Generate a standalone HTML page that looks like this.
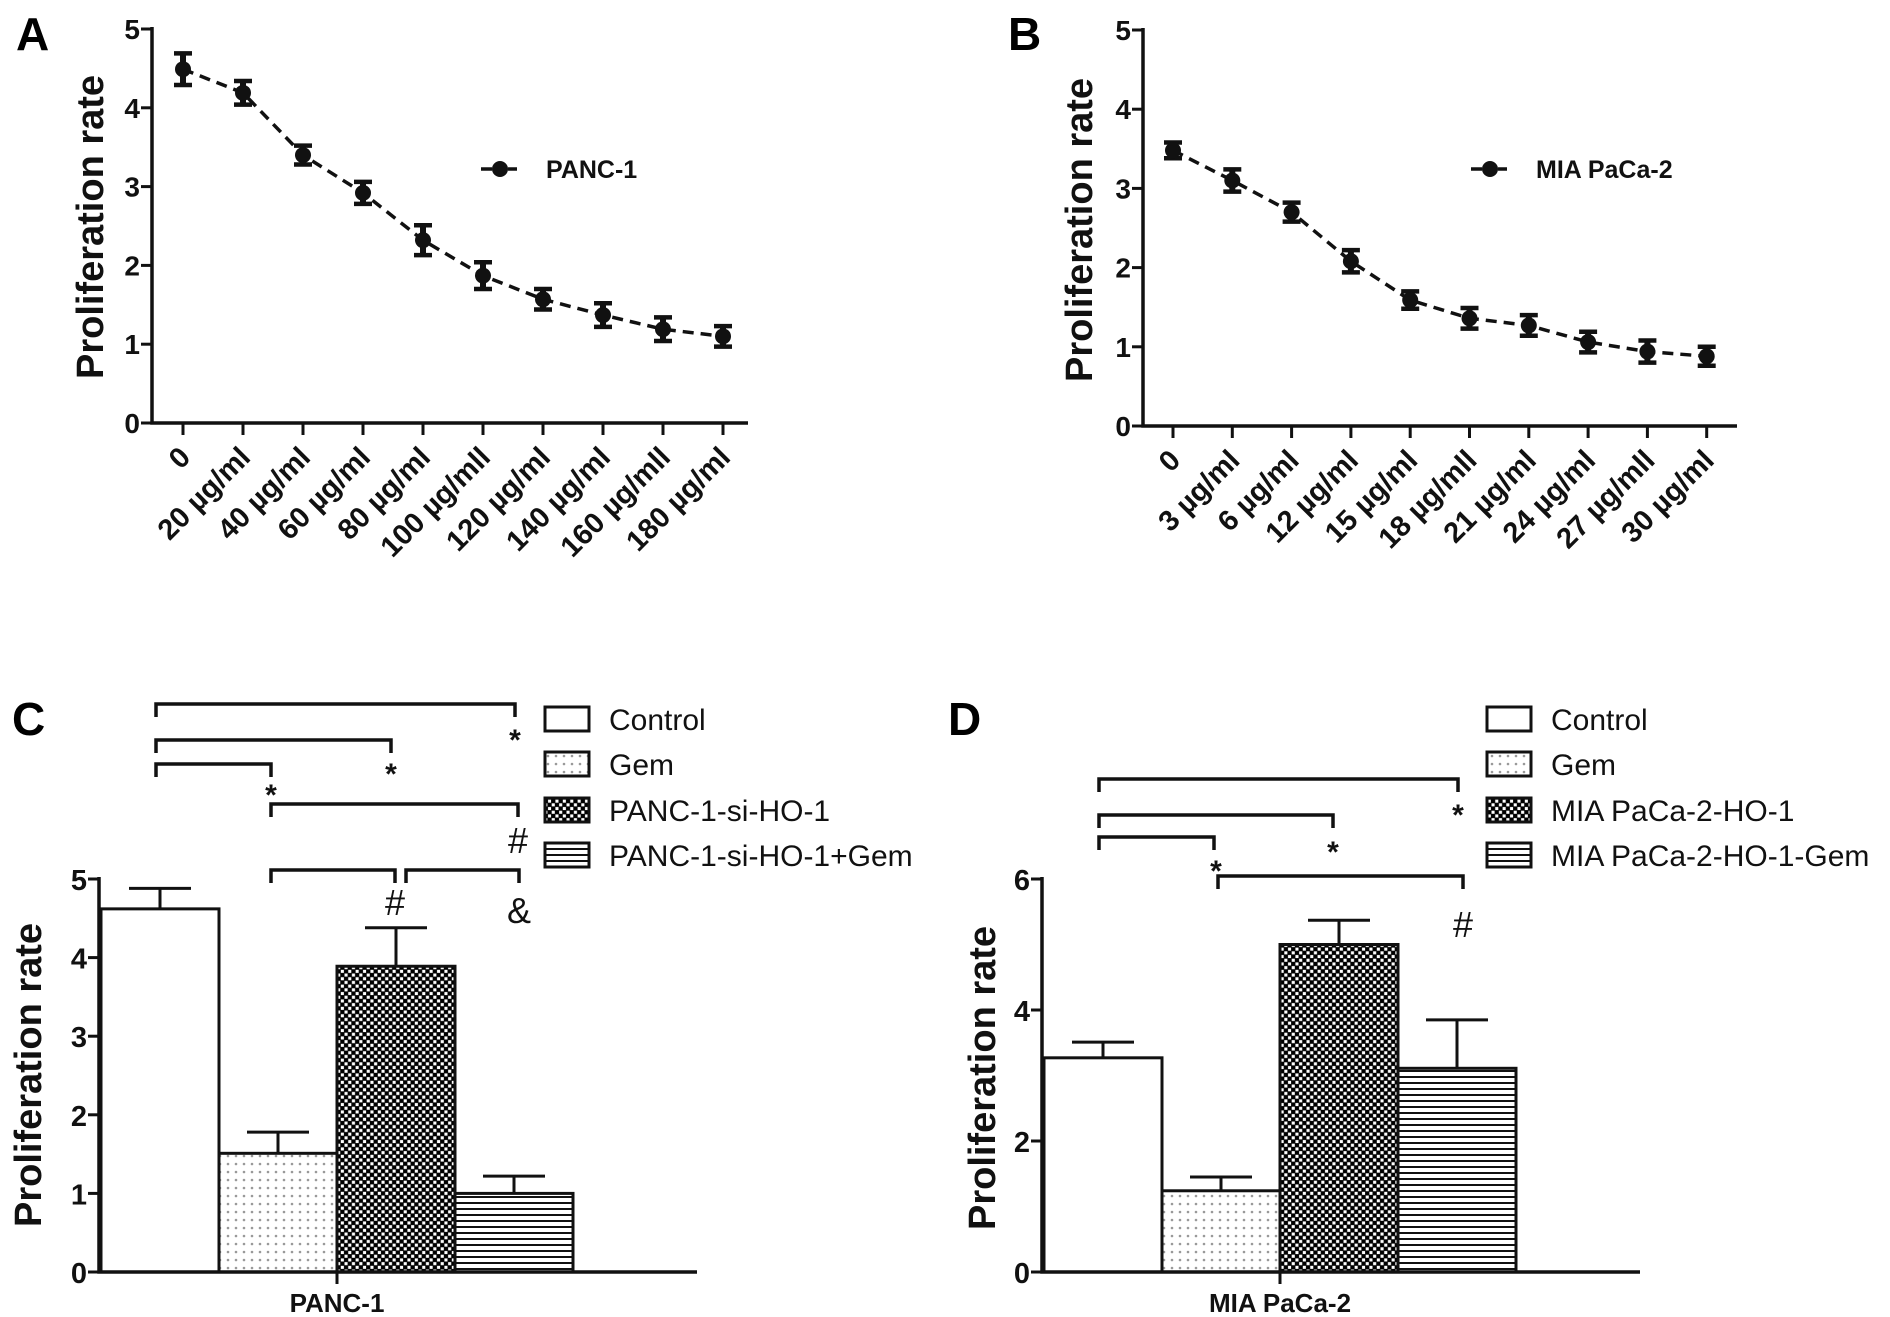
<!DOCTYPE html>
<html><head><meta charset="utf-8"><style>
html,body{margin:0;padding:0;background:#fff;}
svg{display:block;font-family:"Liberation Sans",Arial,sans-serif;}
</style></head><body>
<svg id="fig" width="1890" height="1317" viewBox="0 0 1890 1317" xmlns="http://www.w3.org/2000/svg">
<defs>
<pattern id="dots" width="8" height="8" patternUnits="userSpaceOnUse"><rect width="8" height="8" fill="#fff"/><circle cx="4" cy="4" r="1.3" fill="#999"/></pattern>
<pattern id="checker" width="7.4" height="7.4" patternUnits="userSpaceOnUse"><rect width="7.4" height="7.4" fill="#000"/><rect x="0.4" y="0.4" width="3.1" height="3.1" fill="#fff"/><rect x="4.1" y="4.1" width="3.1" height="3.1" fill="#fff"/></pattern>
<pattern id="hlines" width="6" height="6" patternUnits="userSpaceOnUse"><rect width="6" height="6" fill="#fff"/><rect y="2" width="6" height="2" fill="#111"/></pattern>
</defs>
</svg>
<script>
// ---------- data ----------
const catsA = ["0","20 µg/ml","40 µg/ml","60 µg/ml","80 µg/ml","100 µg/mll","120 µg/ml","140 µg/ml","160 µg/mll","180 µg/ml"];
const valsA = [4.49,4.19,3.40,2.92,2.32,1.87,1.57,1.37,1.19,1.10];
const errsA = [0.20,0.15,0.12,0.14,0.19,0.17,0.13,0.15,0.15,0.13];
const catsB = ["0","3 µg/ml","6 µg/ml","12 µg/ml","15 µg/ml","18 µg/mll","21 µg/ml","24 µg/ml","27 µg/mll","30 µg/ml"];
const valsB = [3.48,3.10,2.70,2.08,1.59,1.36,1.27,1.06,0.94,0.88];
const errsB = [0.10,0.14,0.12,0.14,0.11,0.13,0.13,0.13,0.14,0.12];
const ticksAB = [0,1,2,3,4,5];
const groupsC = ["Control","Gem","PANC-1-si-HO-1","PANC-1-si-HO-1+Gem"];
const valsC = [4.62,1.51,3.89,1.00];
const errsC = [0.26,0.27,0.49,0.22];
const ticksC = [0,1,2,3,4,5];
const groupsD = ["Control","Gem","MIA PaCa-2-HO-1","MIA PaCa-2-HO-1-Gem"];
const valsD = [3.27,1.24,5.00,3.11];
const errsD = [0.24,0.21,0.37,0.74];
const ticksD = [0,2,4,6];
const fills = ["#fff","url(#dots)","url(#checker)","url(#hlines)"];

const svg = document.getElementById('fig');
const NS = "http://www.w3.org/2000/svg";
function mk(tag, attrs, parent){
  const e = document.createElementNS(NS, tag);
  for (const k in attrs) e.setAttribute(k, attrs[k]);
  (parent||svg).appendChild(e);
  return e;
}
function txt(str, attrs, parent){ const t = mk('text', attrs, parent); t.textContent = str; return t; }

// ---------- line panels ----------
function linePanel(cfg){
  const g = mk('g', {});
  
  
  const y = v => cfg.y0 - (v - 0) * (cfg.y0 - cfg.y5) / 5;
  const x = i => cfg.x0 + i * cfg.dx;
  const lab = txt(cfg.letter, {x:cfg.lx, y:50, 'font-size':46, 'font-weight':'bold'}, g);
  
  
  const ax = mk('path', {d:`M${cfg.ax} ${cfg.y5-2} V${cfg.y0} H${cfg.axEnd}`, stroke:'#111', 'stroke-width':3.5, fill:'none'}, g);
  
  
  ticksAB.forEach(t => {
    mk('line', {x1:cfg.ax-11, x2:cfg.ax, y1:y(t), y2:y(t), stroke:'#111', 'stroke-width':3}, g);
    const tl = txt(String(t), {x:cfg.ax-12, y:y(t)+10, 'font-size':28, 'font-weight':'bold', 'text-anchor':'end', fill:'#111'}, g);
    
    
  });
  const yt = txt('Proliferation rate', {transform:`translate(${cfg.tx+26},${cfg.ty}) rotate(-90)`, 'font-size':38, 'font-weight':'bold', 'text-anchor':'middle', fill:'#111'}, g);
  
  
  cfg.cats.forEach((c, i) => {
    mk('line', {x1:x(i), x2:x(i), y1:cfg.y0, y2:cfg.y0+12, stroke:'#111', 'stroke-width':3}, g);
    const xl = txt(c, {transform:`translate(${x(i)+9},${cfg.y0+36}) rotate(-45)`, 'font-size':29, 'font-weight':'bold', 'text-anchor':'end', fill:'#111'}, g);
    
    
  });
  const pts = cfg.vals.map((v, i) => `${x(i)},${y(v)}`).join(' ');
  const ln = mk('polyline', {points:pts, fill:'none', stroke:'#111', 'stroke-width':3.5, 'stroke-dasharray':'11 7'}, g);
  
  
  cfg.vals.forEach((v, i) => {
    const e = cfg.errs[i];
    const eg = mk('g', {}, g);
    
    
    mk('line', {x1:x(i), x2:x(i), y1:y(v+e), y2:y(v-e), stroke:'#111', 'stroke-width':6}, eg);
    mk('line', {x1:x(i)-9, x2:x(i)+9, y1:y(v+e), y2:y(v+e), stroke:'#111', 'stroke-width':4.5}, eg);
    mk('line', {x1:x(i)-9, x2:x(i)+9, y1:y(v-e), y2:y(v-e), stroke:'#111', 'stroke-width':4.5}, eg);
    mk('circle', {cx:x(i), cy:y(v), r:8, fill:'#111'}, eg);
  });
  const lg = mk('g', {}, g);
  
  
  mk('line', {x1:cfg.legX-19, x2:cfg.legX-8, y1:169, y2:169, stroke:'#111', 'stroke-width':3.5}, lg);
  mk('line', {x1:cfg.legX+8, x2:cfg.legX+17, y1:169, y2:169, stroke:'#111', 'stroke-width':3.5}, lg);
  mk('circle', {cx:cfg.legX, cy:169, r:8, fill:'#111'}, lg);
  txt(cfg.legText, {x:cfg.legX+46, y:178, 'font-size':25, 'font-weight':'bold', fill:'#111'}, lg);
}
linePanel({name:'panel-a-chart', letter:'A', lx:16, ax:152, y0:423, y5:29, x0:183, dx:60, axEnd:748, cats:catsA, vals:valsA, errs:errsA, tx:77, ty:227, legX:500, legText:'PANC-1'});
linePanel({name:'panel-b-chart', letter:'B', lx:1008, ax:1143, y0:426, y5:30, x0:1173, dx:59.3, axEnd:1737, cats:catsB, vals:valsB, errs:errsB, tx:1066, ty:230, legX:1490, legText:'MIA PaCa-2'});

// ---------- bar panels ----------
function barPanel(cfg){
  const g = mk('g', {});
  
  
  const ymax = cfg.ticks[cfg.ticks.length-1];
  const y = v => cfg.y0 - v * (cfg.y0 - cfg.yTop) / ymax;
  const bw = 118;
  const lab = txt(cfg.letter, {x:cfg.lx, y:735, 'font-size':46, 'font-weight':'bold'}, g);
  
  
  const yt = txt('Proliferation rate', {transform:`translate(${cfg.tx+27},${cfg.ty}) rotate(-90)`, 'font-size':38, 'font-weight':'bold', 'text-anchor':'middle', fill:'#111'}, g);
  
  
  cfg.vals.forEach((v, i) => {
    const x0 = cfg.bx + i * bw;
    const e = cfg.errs[i];
    const bg = mk('g', {}, g);
    
    
    mk('line', {x1:x0+bw/2, x2:x0+bw/2, y1:y(v), y2:y(v+e), stroke:'#111', 'stroke-width':3}, bg);
    mk('line', {x1:x0+bw/2-31, x2:x0+bw/2+31, y1:y(v+e), y2:y(v+e), stroke:'#111', 'stroke-width':3}, bg);
    mk('rect', {x:x0, y:y(v), width:bw, height:cfg.y0-y(v), fill:fills[i], stroke:'#111', 'stroke-width':3}, bg);
  });
  const ax = mk('path', {d:`M${cfg.ax} ${cfg.yTop-2} V${cfg.y0} H${cfg.axEnd}`, stroke:'#111', 'stroke-width':3.5, fill:'none'}, g);
  
  
  cfg.ticks.forEach(t => {
    mk('line', {x1:cfg.ax-11, x2:cfg.ax, y1:y(t), y2:y(t), stroke:'#111', 'stroke-width':3}, g);
    const tl = txt(String(t), {x:cfg.ax-12, y:y(t)+11, 'font-size':29, 'font-weight':'bold', 'text-anchor':'end', fill:'#111'}, g);
    
    
  });
  const cx = cfg.bx + 2 * bw;
  mk('line', {x1:cx, x2:cx, y1:cfg.y0, y2:cfg.y0+12, stroke:'#111', 'stroke-width':3}, g);
  const xl = txt(cfg.xlabel, {x:cx, y:1312, 'font-size':26, 'font-weight':'bold', 'text-anchor':'middle', fill:'#111'}, g);
  
  
  cfg.brackets.forEach(b => {
    const sg = mk('g', {}, g);
    
    
    mk('path', {d:`M${b[0]} ${b[2]+13} V${b[2]} H${b[1]} V${b[2]+13}`, stroke:'#111', 'stroke-width':3.5, fill:'none'}, sg);
  });
  cfg.marks.forEach(m => {
    const star = m[0]==='*';
    const mt = txt(m[0], {x:m[1], y:m[2]+(star?4:0), 'font-size':star?30:36, 'font-weight':star?'bold':'normal', 'text-anchor':'middle', fill:'#111'}, g);
    
    
  });
  const rows = [719,764,810,855];
  cfg.groups.forEach((name, i) => {
    const lg = mk('g', {}, g);
    
    
    mk('rect', {x:cfg.legX, y:rows[i]-12, width:44, height:24, fill:fills[i], stroke:'#111', 'stroke-width':3}, lg);
    txt(name, {x:cfg.legX+64, y:rows[i]+11, 'font-size':30, fill:'#111'}, lg);
  });
}
barPanel({name:'panel-c-chart', letter:'C', lx:12, ax:99, y0:1272, yTop:879, ticks:ticksC, bx:101, axEnd:697,
  vals:valsC, errs:errsC, tx:14, ty:1075, xlabel:'PANC-1', groups:groupsC, legX:545,
  brackets:[[156,515,704],[156,391,740],[156,271,764],[271,518,804],[271,395,870],[406,519,870]],
  marks:[['*',515,746],['*',391,780],['*',271,801],['#',518,853],['#',395,915],['&',519,923]]});
barPanel({name:'panel-d-chart', letter:'D', lx:948, ax:1042, y0:1272, yTop:879, ticks:ticksD, bx:1044, axEnd:1640,
  vals:valsD, errs:errsD, tx:968, ty:1078, xlabel:'MIA PaCa-2', groups:groupsD, legX:1487,
  brackets:[[1099,1458,779],[1099,1333,815],[1099,1214,837],[1218,1463,876]],
  marks:[['*',1458,821],['*',1333,858],['*',1216,877],['#',1463,937]]});
</script>
</body></html>
